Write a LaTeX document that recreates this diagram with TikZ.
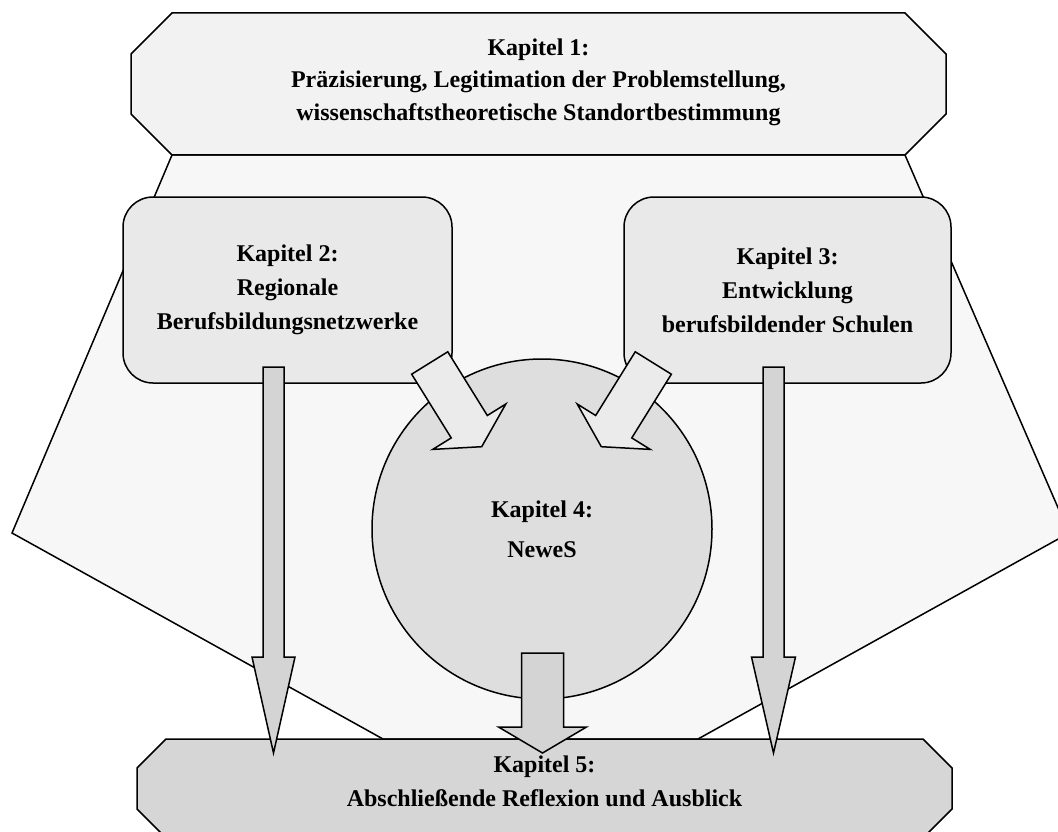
\documentclass[tikz,border=0pt]{standalone}
\usepackage{fontspec}
\setmainfont{Liberation Serif}
\usetikzlibrary{calc}

\definecolor{fanfill}{HTML}{F7F7F7}
\definecolor{topfill}{HTML}{F2F2F2}
\definecolor{boxfill}{HTML}{E9E9E9}
\definecolor{circfill}{HTML}{DEDEDE}
\definecolor{downfill}{HTML}{D4D4D4}
\definecolor{diagfill}{HTML}{EBEBEB}
\definecolor{endfill}{HTML}{D6D6D6}

\tikzset{
  outline/.style={draw=black, line width=1.5pt, line join=miter},
  frame/.style={rectangle, draw=none, inner sep=0pt, outer sep=0pt},
  title/.style={align=center, inner sep=0pt, font=\bfseries\fontsize{24}{32.5}\selectfont},
  chapterbox/.style={outline, fill=boxfill, rectangle, rounded corners=30pt,
    minimum width=328pt, minimum height=186pt, inner sep=0pt, align=center,
    font=\bfseries\fontsize{24}{34}\selectfont},
  hub/.style={outline, fill=circfill, circle, minimum size=340pt, inner sep=0pt,
    align=center, font=\bfseries\fontsize{24}{40}\selectfont},
  closing/.style={align=center, inner sep=0pt, font=\bfseries\fontsize{24}{34}\selectfont}
}

% octagon around a frame node: #1 node, #2 chamfer, #3 fill colour
\newcommand\octagonframe[3]{%
  \draw[outline, fill=#3]
    ($(#1.north west)+(#2,0)$) -- ($(#1.north east)+(-#2,0)$)
    -- ($(#1.north east)+(0,#2)$) -- ($(#1.south east)+(0,-#2)$)
    -- ($(#1.south east)+(-#2,0)$) -- ($(#1.south west)+(#2,0)$)
    -- ($(#1.south west)+(0,-#2)$) -- ($(#1.north west)+(0,#2)$) -- cycle;}

% block arrow: #1 tail, #2 tip, #3 half shaft width, #4 half head width,
% #5 shaft length, #6 fill colour
\newcommand\blockarrow[6]{%
  \coordinate (ba-end) at ($(#1)!#5!(#2)$);
  \draw[outline, fill=#6]
    ($(#1)!#3!90:(#2)$) -- ($(ba-end)!#3!90:(#2)$) -- ($(ba-end)!#4!90:(#2)$)
    -- (#2) -- ($(ba-end)!#4!-90:(#2)$) -- ($(ba-end)!#3!-90:(#2)$)
    -- ($(#1)!#3!-90:(#2)$) -- cycle;}

\begin{document}
\begin{tikzpicture}[x=1pt,y=-1pt]
\useasboundingbox (0,0) rectangle (1058,832);
\clip (0,0) rectangle (1058,832);
\fill[white] (0,0) rectangle (1058,832);

% frames of the two octagons
\node[frame, minimum width=815pt, minimum height=142pt] (k1) at (538.5,84) {};
\node[frame, minimum width=815pt, minimum height=99pt] (k5) at (544.5,788.5) {};

% widening background fan
\coordinate (fan-l) at (12,533);
\coordinate (fan-r) at (1069,533);
\coordinate (fan-bl) at (383,739);
\coordinate (fan-br) at (698,739);
\draw[outline, fill=fanfill]
  ($(k1.south west)+(41,0)$) -- (fan-l) -- (fan-bl) -- (fan-br) -- (fan-r)
  -- ($(k1.south east)+(-41,0)$) -- cycle;

\octagonframe{k1}{41}{topfill}
\octagonframe{k5}{29}{endfill}

% chapters 2, 3, 4
\node[chapterbox, minimum width=329pt] (k2) at (287.5,290) {Kapitel 2:\\Regionale\\Berufsbildungsnetzwerke};
\node[chapterbox, minimum width=327pt] (k3) at (787.5,290) {Kapitel 3:\\Entwicklung\\berufsbildender Schulen};
\node[hub] (k4) at (542,529) {Kapitel 4:\\NeweS};

% arrow end points
\coordinate (a2-tail) at (273.5,367);
\coordinate (a2-tip) at (273.5,753);
\coordinate (a3-tail) at (773.5,367);
\coordinate (a3-tip) at (773.5,753);
\coordinate (a4-tail) at (542.5,653);
\coordinate (a4-tip) at (542.5,753);
\coordinate (d2-tail) at (429.7,363);
\coordinate (d2-tip) at (481.7,446.7);
\coordinate (d3-tail) at (653.3,363);
\coordinate (d3-tip) at (601.3,446.7);

\blockarrow{a2-tail}{a2-tip}{10.5pt}{21.5pt}{290pt}{downfill}
\blockarrow{a3-tail}{a3-tip}{10.5pt}{22pt}{290pt}{downfill}
\blockarrow{a4-tail}{a4-tip}{21pt}{44pt}{74pt}{downfill}
\blockarrow{d2-tail}{d2-tip}{21.25pt}{43pt}{75pt}{diagfill}
\blockarrow{d3-tail}{d3-tip}{21.25pt}{43pt}{75pt}{diagfill}

% texts of the octagons
\node[title] (k1-text) at (538.5,82) {Kapitel 1:\\Präzisierung, Legitimation der Problemstellung,\\wissenschaftstheoretische Standortbestimmung};
\node[closing] (k5-text) at (544.5,781) {Kapitel 5:\\Abschließende Reflexion und Ausblick};
\end{tikzpicture}
\end{document}
